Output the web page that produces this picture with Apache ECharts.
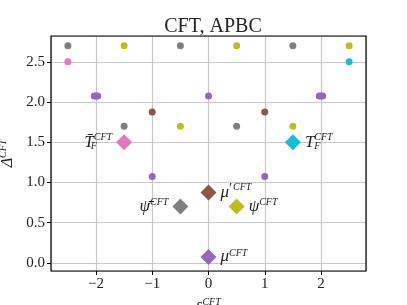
<!DOCTYPE html>
<html><head><meta charset="utf-8">
<script src="https://cdn.jsdelivr.net/npm/echarts@6/dist/echarts.min.js"></script>
<style>html,body{margin:0;padding:0;background:#fff}#c{width:407px;height:305px}</style>
</head><body><div id="c"></div>
<script>
// data: [s, Delta]
const grayDots   = [[-2.5,2.7],[-0.5,2.7],[1.5,2.7],[-1.5,1.7],[0.5,1.7]];
const oliveDots  = [[-1.5,2.7],[0.5,2.7],[2.5,2.7],[-0.5,1.7],[1.5,1.7]];
const pinkDots   = [[-2.5,2.5]];
const cyanDots   = [[2.5,2.5]];
const purpleDots = [[-2.03,2.075],[-2.0,2.075],[-1.97,2.075],[0,2.075],[1.97,2.075],[2.0,2.075],[2.03,2.075],[-1,1.075],[1,1.075]];
const brownDots  = [[-1,1.875],[1,1.875]];
const diamonds = [
  {name:'TbarF', value:[-1.5,1.5], color:'#e377c2', side:'left'},
  {name:'TF', value:[1.5,1.5], color:'#17becf', side:'right'},
  {name:'muprime', value:[0,0.875], color:'#8c564b', side:'right'},
  {name:'psibar', value:[-0.5,0.7], color:'#7f7f7f', side:'left'},
  {name:'psi', value:[0.5,0.7], color:'#bcbd22', side:'right'},
  {name:'mu', value:[0,0.075], color:'#9467bd', side:'right'}
];
const diamondLabels = {
  TbarF: '{b|T\u0304}{f|F}{s|CFT}',
  TF: '{b|T}{f|F}{s|CFT}',
  muprime: '{b|\u03BC}{p|\u2032}{s|CFT}',
  psibar: '{b|\u03C8\u0304}{s|CFT}',
  psi: '{b|\u03C8}{s|CFT}',
  mu: '{b|\u03BC}{s|CFT}'
};
const xRange = [-2.8, 2.8];
const yRange = [-0.1, 2.82];

const serif = 'Liberation Serif';
const rich = {
  b: {fontFamily: serif, fontSize: 17, fontStyle: 'italic', color: '#222'},
  s: {fontFamily: serif, fontSize: 10, fontStyle: 'italic', color: '#222', verticalAlign: 'top', padding:[0,0,8,0]},
  p: {fontFamily: serif, fontSize: 14, fontStyle: 'normal', color: '#222', verticalAlign: 'top', padding:[0,1,6,0]},
  f: {fontFamily: serif, fontSize: 10, fontStyle: 'italic', color: '#222', verticalAlign: 'bottom', padding:[9,0,0,0], width: 0, align: 'left'}
};
const axisRich = {
  b: {fontFamily: serif, fontSize: 16, fontStyle: 'italic', color: '#222'},
  s: {fontFamily: serif, fontSize: 10, fontStyle: 'italic', color: '#222', verticalAlign: 'top', padding:[0,0,7,0]}
};
function dots(data, color) {
  return {type:'scatter', data: data, symbol:'circle', symbolSize: 7, itemStyle:{color: color, opacity:1}, z:3};
}
const chart = echarts.init(document.getElementById('c'), null, {renderer:'canvas'});
chart.setOption({
  animation: false,
  title: {text:'CFT, APBC', left: 208, textAlign:'center', top: 12,
    textStyle:{fontFamily: serif, fontWeight:'normal', fontSize: 20, color:'#222'}},
  grid: {left: 51, right: 41, top: 36, bottom: 34, outerBoundsMode: 'none', containLabel: false,
    show: true, borderColor:'#000', borderWidth: 1.2, z: 10},
  xAxis: {type:'value', min: xRange[0], max: xRange[1], splitNumber: 5,
    axisLine:{show:false, onZero:false}, axisTick:{show:true, length:4, lineStyle:{color:'#000'}},
    axisLabel:{showMinLabel:false, showMaxLabel:false, fontFamily: serif, fontSize: 15, color:'#222', margin: 6,
      formatter: v => (v<0?'\u2212'+Math.abs(v):String(v))},
    splitLine:{show:true, lineStyle:{color:'#c8c8c8', width:1.2}},
    name:'{b|s}{s|CFT}', nameLocation:'middle', nameGap: 19,
    nameTextStyle:{rich: axisRich}},
  yAxis: {type:'value', min: yRange[0], max: yRange[1], splitNumber: 6,
    axisLine:{show:false, onZero:false}, axisTick:{show:true, length:4, lineStyle:{color:'#000'}},
    axisLabel:{showMinLabel:false, showMaxLabel:false, fontFamily: serif, fontSize: 15, color:'#222', margin: 6,
      formatter: v => v.toFixed(1)},
    splitLine:{show:true, lineStyle:{color:'#c8c8c8', width:1.2}},
    name:'{b|\u0394}{s|CFT}', nameLocation:'middle', nameGap: 31, nameRotate: 90,
    nameTextStyle:{rich: axisRich}},
  series: [
    dots(grayDots, '#7f7f7f'),
    dots(oliveDots, '#bcbd22'),
    dots(pinkDots, '#e377c2'),
    dots(cyanDots, '#17becf'),
    dots(purpleDots, '#9467bd'),
    dots(brownDots, '#8c564b'),
    {type:'scatter', symbol:'diamond', symbolSize:[16,16], z:4,
      data: diamonds.map(d => ({
        name: d.name, value: d.value, itemStyle:{color: d.color, opacity:1},
        label:{show:true, position: d.side, distance: 4, formatter: diamondLabels[d.name], rich: rich}
      }))}
  ]
});
</script></body></html>
